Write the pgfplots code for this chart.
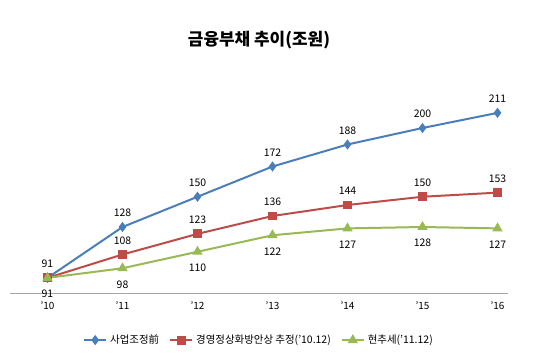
\documentclass[border=0pt]{standalone}
\usepackage{fontspec}
\setmainfont{Noto Sans CJK KR}
\usepackage{pgfplots}
\pgfplotsset{compat=1.18}
\definecolor{cblue}{HTML}{4A7EBB}
\definecolor{cred}{HTML}{BE4B48}
\definecolor{cgreen}{HTML}{98B954}
\begin{document}
\begin{tikzpicture}
\useasboundingbox (0,0) rectangle (550bp,-360bp);
\node[font=\bfseries\fontsize{17}{20}\selectfont] at (259bp,-40bp) {금융부채 추이(조원)};
\begin{axis}[
  at={(10bp,-293bp)}, anchor=south west,
  scale only axis, width=498bp, height=220bp,
  xmin=-0.5, xmax=6.14, ymin=80, ymax=240,
  axis x line=bottom, axis y line=none,
  x axis line style={-, gray!70, line width=0.6pt},
  xtick={0,...,6}, xticklabels={\hbox{'10},\hbox{'11},\hbox{'12},\hbox{'13},\hbox{'14},\hbox{'15},\hbox{'16}},
  major tick length=0pt,
  /pgf/number format/assume math mode=true,
  ticklabel style={font=\fontsize{10}{11}\selectfont},
  xticklabel style={yshift=-5bp},
  clip=false,
  nodes near coords,
  every node near coord/.append style={font=\fontsize{10.5}{12}\selectfont, black},
  legend columns=3,
  legend style={at={(axis description cs:0.50,-0.214)}, anchor=center, draw=none,
    font=\fontsize{10.5}{12}\selectfont, column sep=8bp,
    /tikz/every odd column/.append style={column sep=1bp}},
  legend image code/.code={\draw[#1] (0bp,0bp) -- (22bp,0bp); \draw[#1, mark repeat=1] plot coordinates {(11bp,0bp)};},
]
\addplot[cblue, line width=2pt, mark=diamond*, mark size=3.5pt, mark options={solid},
  every node near coord/.append style={anchor=south, yshift=6bp}]
  coordinates {(0,91) (1,128) (2,150) (3,172) (4,188) (5,200) (6,211)};
\addlegendentry{사업조정前}
\addplot[cred, line width=2pt, mark=square*, mark size=3.5pt, mark options={solid},
  nodes near coords={\ifnum\coordindex=0\else\pgfmathprintnumber{\pgfplotspointmeta}\fi},
  every node near coord/.append style={anchor=south, yshift=6bp}]
  coordinates {(0,91) (1,108) (2,123) (3,136) (4,144) (5,150) (6,153)};
\addlegendentry{경영정상화방안상 추정('10.12)}
\addplot[cgreen, line width=2pt, mark=triangle*, mark size=4pt, mark options={solid},
  every node near coord/.append style={anchor=north, yshift=-8bp}]
  coordinates {(0,91) (1,98) (2,110) (3,122) (4,127) (5,128) (6,127)};
\addlegendentry{현추세('11.12)}
\end{axis}
\end{tikzpicture}
\end{document}
